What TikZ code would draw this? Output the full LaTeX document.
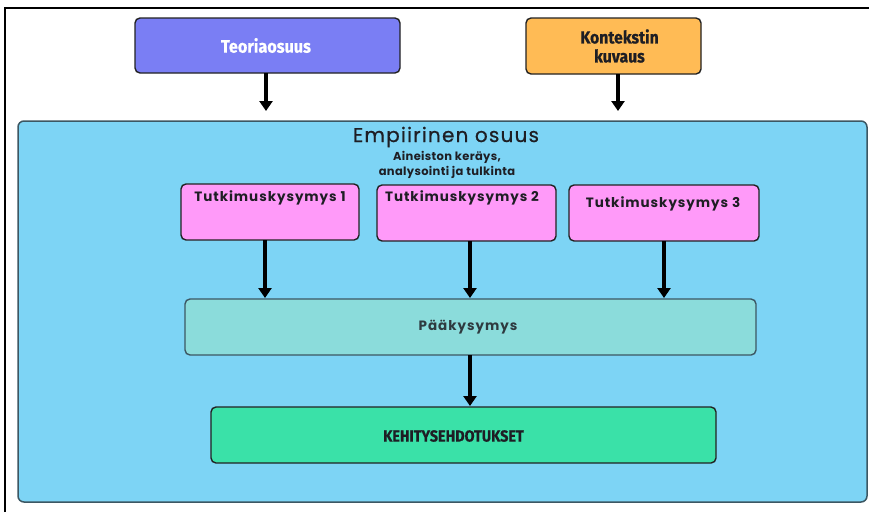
\documentclass[tikz,border=0pt]{standalone}
\usepackage{fontspec}
\setmainfont{Poppins}
\newfontfamily\condfont[FakeStretch=0.9,FakeBold=0.6]{Fira Sans}
\newfontfamily\popfont{Poppins}
\usetikzlibrary{arrows.meta}
\definecolor{theorycol}{HTML}{7A7EF4}
\definecolor{contextcol}{HTML}{FFBB55}
\definecolor{empcol}{HTML}{7DD4F5}
\definecolor{empedge}{HTML}{3C5763}
\definecolor{rqcol}{HTML}{FF9AF9}
\definecolor{maincol}{HTML}{8BDCDB}
\definecolor{devcol}{HTML}{3AE1A8}
\definecolor{boxedge}{HTML}{222222}
\definecolor{textdark}{HTML}{1E1E24}
\tikzset{
  card/.style={draw=boxedge, line width=1.4pt, rounded corners=5pt},
  flow/.style={line width=3.2pt, -{Triangle[width=13pt,length=10pt]}},
}
\begin{document}
\begin{tikzpicture}[x=1pt,y=-1pt]
\useasboundingbox (0,0) rectangle (869,512);
\fill[white] (0,0) rectangle (869,512);
% outer frame
\draw[line width=1.3pt, black] (5,512) -- (5,8) -- (869,8);

% top boxes
\draw[card, fill=theorycol] (135,18) rectangle (400,73);
\node[text=white, font=\condfont\bfseries\fontsize{18}{20}\selectfont] (theory) at (266,45.5) {Teoriaosuus};
\coordinate (theoryB) at (266,73);
\draw[card, fill=contextcol] (526,18) rectangle (701,74);
\node[text=textdark, align=center, font=\condfont\bfseries\fontsize{17.5}{19}\selectfont] (context) at (619.5,46) {Kontekstin\\kuvaus};
\coordinate (contextB) at (618,74);

% empirical part
\draw[draw=empedge, line width=1.5pt, rounded corners=6pt, fill=empcol] (18,121) rectangle (867,502);
\coordinate (empT1) at (266,111);
\coordinate (empT2) at (618,111);
\draw[flow] (theoryB) -- (empT1);
\draw[flow] (contextB) -- (empT2);
\node[text=textdark, font=\popfont\fontsize{20}{22}\selectfont, inner sep=0pt] (emptitle) at (446,137) {\addfontfeatures{LetterSpace=6,FakeBold=0.6}Empiirinen osuus};
\node[text=textdark, align=center, font=\popfont\bfseries\fontsize{11.5}{15}\selectfont, inner sep=0pt] (empsub) at (447,164.5) {\addfontfeatures{LetterSpace=3}Aineiston keräys,\\\addfontfeatures{LetterSpace=3}analysointi ja tulkinta};

% research questions
\draw[card, fill=rqcol] (181,184) rectangle (359,240);
\node[text=textdark, font=\popfont\bfseries\fontsize{13.5}{15}\selectfont] (rq1) at (270,198) {\addfontfeatures{LetterSpace=7}Tutkimuskysymys 1};
\draw[card, fill=rqcol] (377,185) rectangle (556,241);
\node[text=textdark, font=\popfont\bfseries\fontsize{13.5}{15}\selectfont] (rq2) at (462,198) {\addfontfeatures{LetterSpace=7}Tutkimuskysymys 2};
\draw[card, fill=rqcol] (569,185) rectangle (759,241);
\node[text=textdark, font=\popfont\bfseries\fontsize{13.5}{15}\selectfont] (rq3) at (663,204) {\addfontfeatures{LetterSpace=7}Tutkimuskysymys 3};
\coordinate (rq1B) at (265,240);
\coordinate (rq2B) at (470,241);
\coordinate (rq3B) at (664,241);

% main question
\draw[card, draw=empedge, fill=maincol] (185,299) rectangle (756,355);
\node[text=textdark!85!maincol, font=\popfont\bfseries\fontsize{13.5}{15}\selectfont] (mainq) at (468,327) {\addfontfeatures{LetterSpace=7}Pääkysymys};
\coordinate (mainT1) at (265,298);
\coordinate (mainT2) at (470,298);
\coordinate (mainT3) at (664,298);
\draw[flow] (rq1B) -- (mainT1);
\draw[flow] (rq2B) -- (mainT2);
\draw[flow] (rq3B) -- (mainT3);

% development proposals
\draw[card, fill=devcol] (211,407) rectangle (716,463);
\node[text=textdark, font=\condfont\bfseries\fontsize{16}{18}\selectfont] (dev) at (453.5,436) {KEHITYSEHDOTUKSET};
\coordinate (mainB) at (470,355);
\coordinate (devT) at (470,406);
\draw[flow] (mainB) -- (devT);
\end{tikzpicture}
\end{document}
